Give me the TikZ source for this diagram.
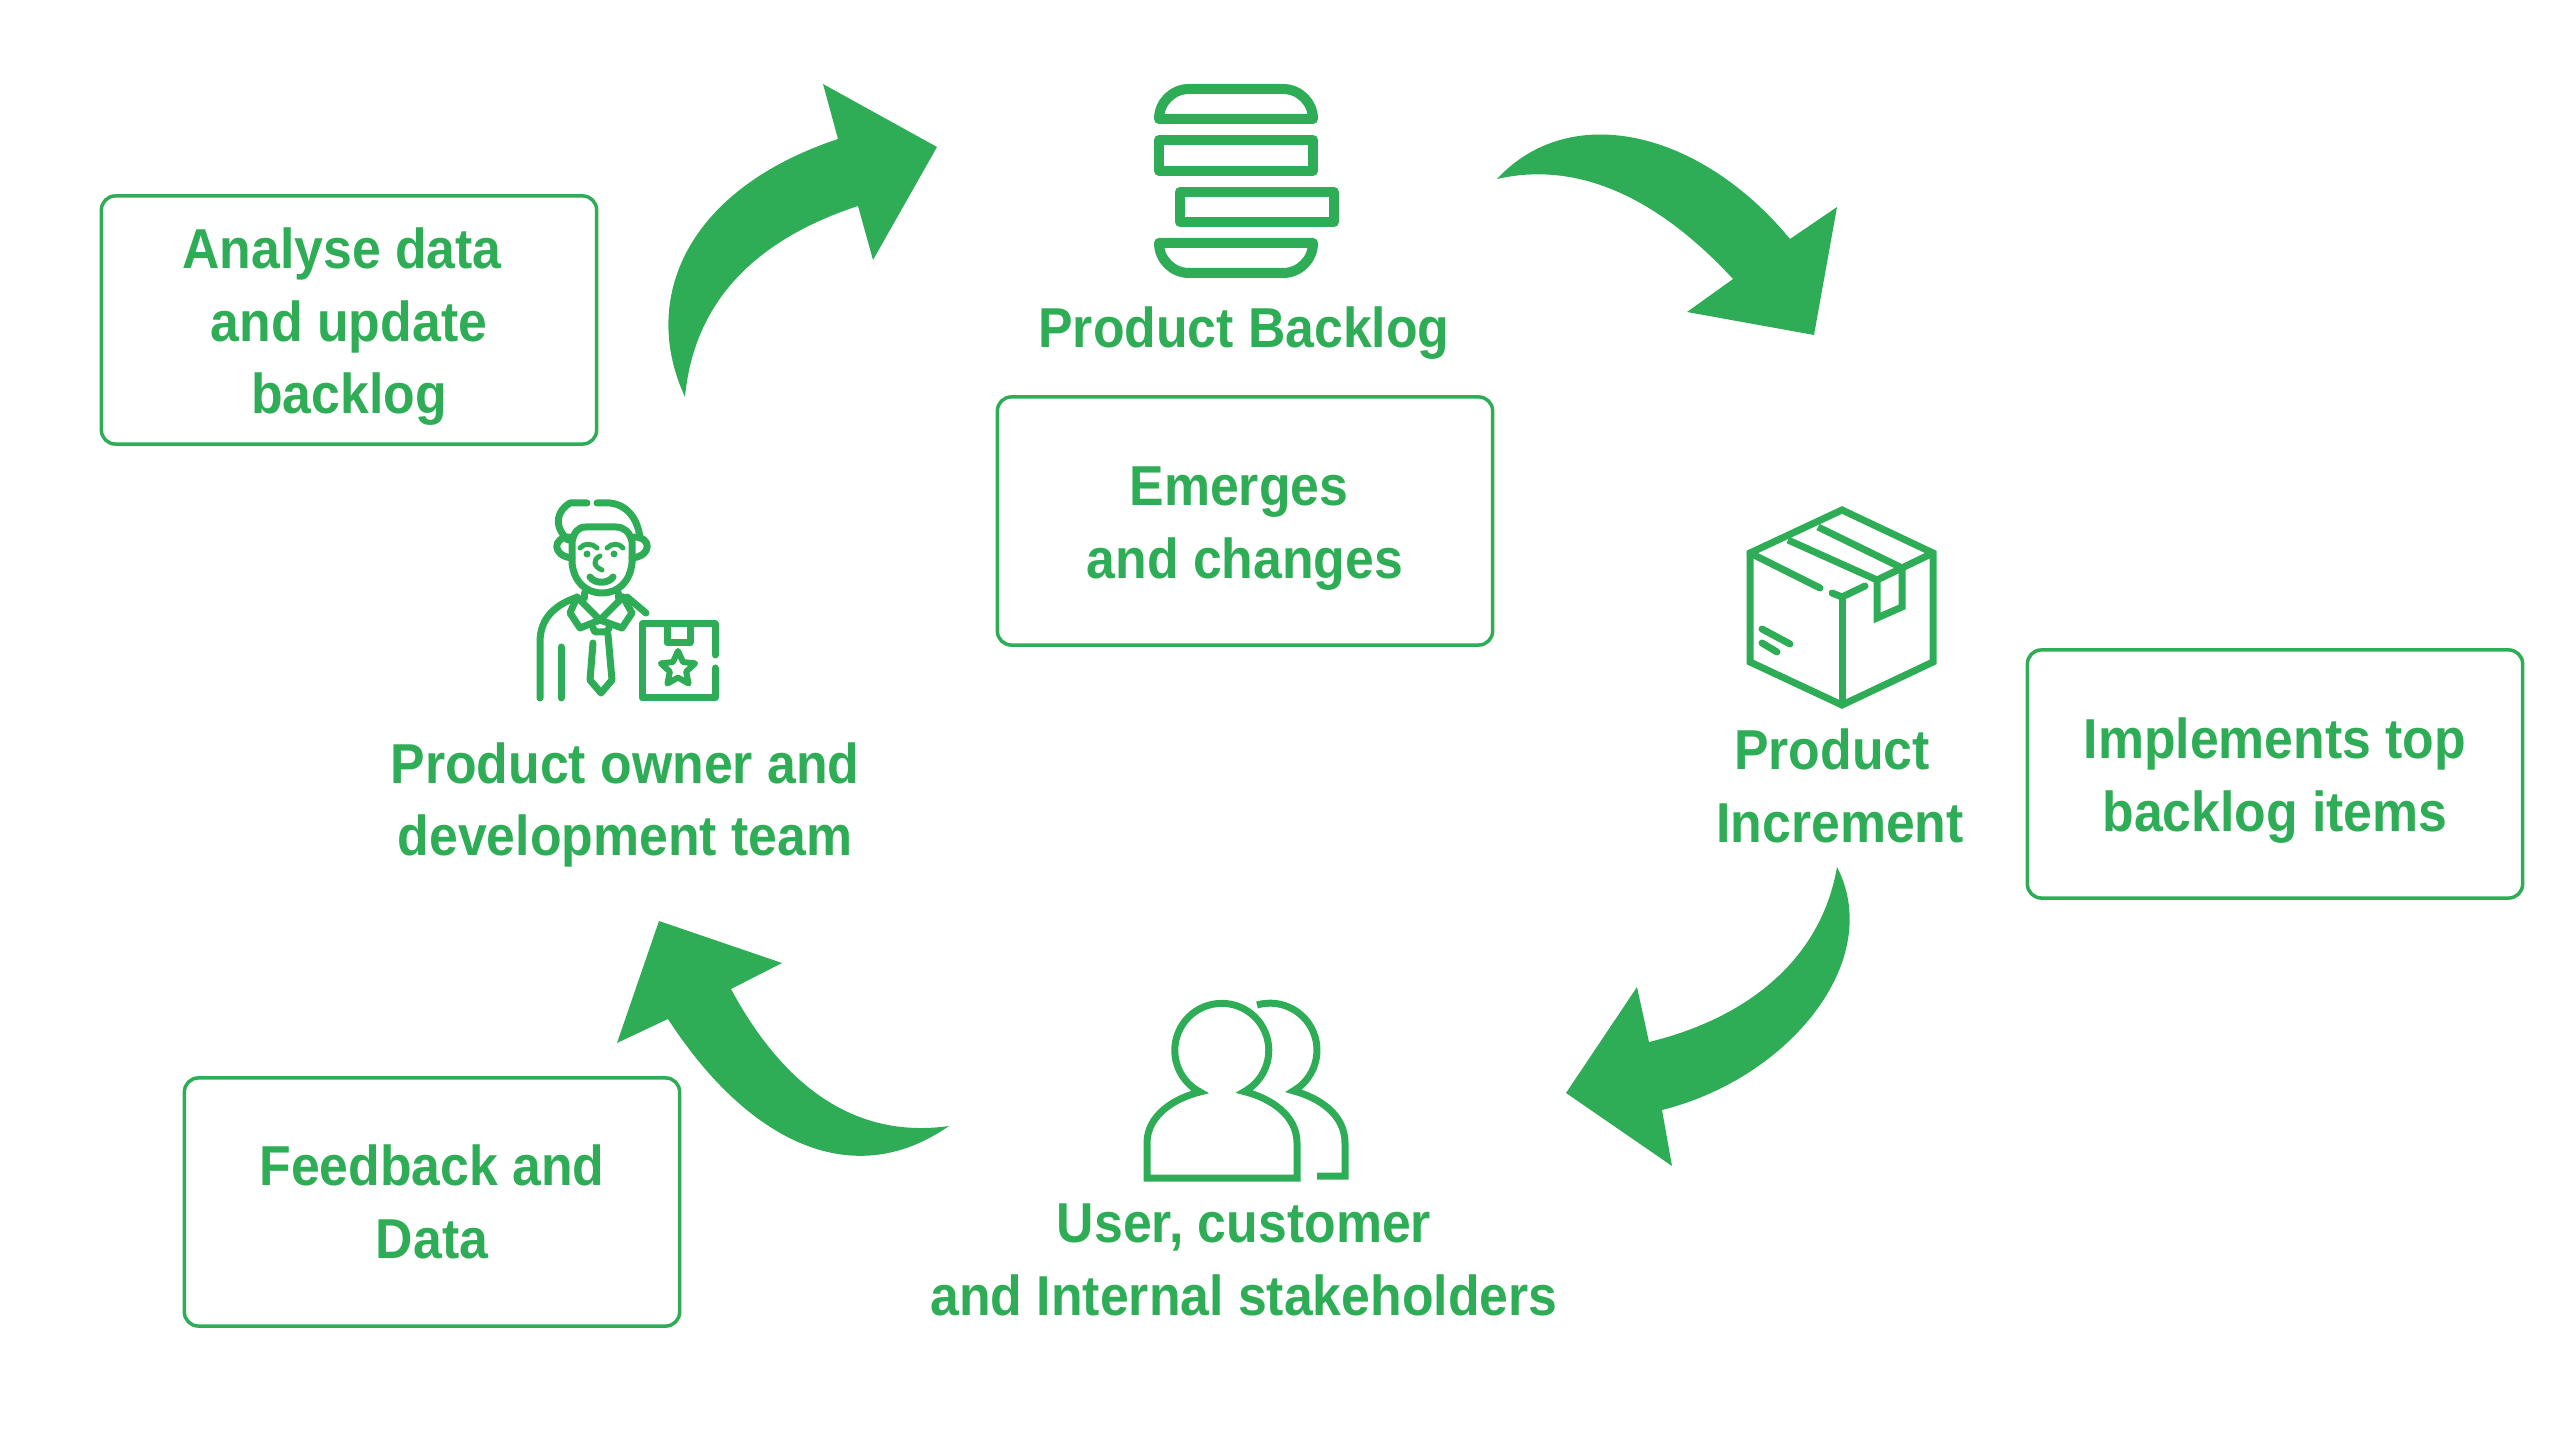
\documentclass[tikz,border=0pt]{standalone}
\usepackage{fontspec}
\setmainfont[FakeStretch=0.92]{Liberation Sans}
\usetikzlibrary{shapes.geometric}
\definecolor{scrumgreen}{RGB}{46,173,86}
\newcommand{\boxlift}{\rule{0pt}{0.54cm}}

\begin{document}
\begin{tikzpicture}[x=0.01cm, y=-0.01cm,
notebox/.style={rectangle, draw=scrumgreen, line width=0.035cm, rounded corners=0.14cm, minimum width=4.95cm, minimum height=2.48cm, align=center, text=scrumgreen, font=\bfseries\fontsize{16}{20.66}\selectfont},
caption/.style={align=center, text=scrumgreen, font=\bfseries\fontsize{16}{20.66}\selectfont},
bigarrow/.style={fill=scrumgreen, draw=none},
thickicon/.style={draw=scrumgreen, line width=0.1cm, line join=round},
plainicon/.style={draw=scrumgreen, line width=0.07cm, line join=miter},
iconline/.style={draw=scrumgreen, line width=0.07cm, line cap=round, line join=round},]

	\useasboundingbox (0, 0) rectangle (2560, 1440);

	% block arrows
	\filldraw[bigarrow] (685, 397) .. controls (640, 300) and (685, 190) .. (838, 139) -- (823, 84) -- (937, 147) -- (873, 260) -- (858, 206) .. controls (770, 235) and (695, 290) .. (685, 397) -- cycle;
	\filldraw[bigarrow] (1497, 179) .. controls (1570, 100) and (1700, 130) .. (1790, 239) -- (1837, 207) -- (1814, 335) -- (1687, 312) -- (1733, 279) .. controls (1660, 200) and (1580, 160) .. (1497, 179) -- cycle;
	\filldraw[bigarrow] (1837, 867) .. controls (1885, 960) and (1790, 1078) .. (1662, 1110) -- (1672, 1166) -- (1566, 1093) -- (1637, 987) -- (1649, 1042) .. controls (1740, 1020) and (1820, 965) .. (1837, 867) -- cycle;
	\filldraw[bigarrow] (949, 1126) .. controls (850, 1195) and (745, 1138) .. (668, 1019) -- (617, 1043) -- (659, 921) -- (782, 963) -- (731, 989) .. controls (780, 1080) and (850, 1140) .. (949, 1126) -- cycle;

	% boxes
	\node (analyse) [notebox] at (349, 320) {\boxlift Analyse data\hspace*{0.14cm}\\and update\\backlog};
	\node (emerges) [notebox] at (1245, 521) {\boxlift Emerges\hspace*{0.12cm}\\and changes};
	\node (implements) [notebox] at (2275, 774) {\boxlift Implements top\\backlog items};
	\node (feedback) [notebox] at (432, 1202) {Feedback and\\Data};

	% captions
	\node (backlog) [caption] at (1244, 333) {Product Backlog};
	\node (increment) [caption] at (1840, 786) {Product\hspace*{0.16cm}\\Increment};
	\node (owner) [caption] at (625, 805) {Product owner and\\development team};
	\node (users) [caption] at (1244, 1260) {User, customer\\and Internal stakeholders};

	% backlog icon
	\draw[thickicon] (1159, 119) [rounded corners=0.3cm] -- (1159, 89) -- (1313, 89) [sharp corners] -- (1313, 119) -- cycle;
	\draw[thickicon] (1159, 140) rectangle (1313, 171);
	\draw[thickicon] (1180, 192) rectangle (1334, 222);
	\draw[thickicon] (1159, 243) -- (1313, 243) [rounded corners=0.3cm] -- (1313, 273) -- (1159, 273) [sharp corners] -- cycle;

	% parcel icon
	\draw[plainicon] (1750, 553) -- (1842, 510) -- (1933, 553) -- (1933, 662) -- (1842, 705) -- (1750, 662) -- cycle;
	\draw[plainicon] (1842, 705) -- (1842, 595);
	\draw[iconline] (1750, 553) -- (1820, 588);
	\draw[iconline] (1832, 593) -- (1842, 597) -- (1865, 586);
	\draw[plainicon] (1788, 540) -- (1877, 580) -- (1877, 618) -- (1902, 607) -- (1902, 568) -- (1818, 527);
	\draw[plainicon] (1877, 580) -- (1933, 553);
	\draw[iconline] (1762, 629) -- (1790, 644);
	\draw[iconline] (1762, 643) -- (1777, 652);

	% users icon
	\draw[plainicon] (1147, 1178) -- (1147, 1143) .. controls (1147, 1115) and (1175, 1098) .. (1200, 1092) arc (117.6:421.3:47) .. controls (1270, 1098) and (1297, 1115) .. (1297, 1143) -- (1297, 1178) -- cycle;
	\draw[plainicon] (1257, 1005) arc (254:420:47) .. controls (1320, 1098) and (1345, 1115) .. (1345, 1143) -- (1345, 1176) -- (1317, 1176);

	% owner icon
	\draw[iconline] (587, 503) -- (570, 503) .. controls (558, 510) and (552, 525) .. (568, 540);
	\draw[iconline] (597, 503) -- (610, 503) .. controls (628, 505) and (638, 520) .. (640, 538);
	\draw[iconline] (572, 563) -- (572, 542) .. controls (574, 532) and (578, 527) .. (586, 527) -- (616, 527) .. controls (624, 527) and (630, 532) .. (632, 542) -- (632, 563) .. controls (630, 582) and (618, 593) .. (602, 593) .. controls (586, 593) and (574, 582) .. (572, 563);
	\draw[iconline] (570, 537) .. controls (552, 537) and (552, 556) .. (572, 558);
	\draw[iconline] (634, 537) .. controls (652, 537) and (652, 556) .. (632, 558);
	\draw[iconline, line width=0.05cm] (580, 548) .. controls (584, 543) and (592, 543) .. (597, 548);
	\draw[iconline, line width=0.05cm] (607, 548) .. controls (612, 543) and (619, 543) .. (623, 548);
	\filldraw[fill=scrumgreen, draw=none] (587, 554) circle (3.5);
	\filldraw[fill=scrumgreen, draw=none] (614, 554) circle (3.5);
	\draw[iconline, line width=0.05cm] (600, 556) .. controls (592, 560) and (594, 567) .. (602, 570);
	\draw[iconline] (590, 577) .. controls (595, 584) and (608, 584) .. (613, 577);
	\draw[iconline] (584, 593) -- (584, 598);
	\draw[iconline] (618, 593) -- (618, 598);
	\draw[iconline] (577, 597) -- (600, 620) -- (623, 597);
	\draw[iconline] (577, 597) -- (570, 613) -- (580, 628) -- (600, 620) -- (622, 628) -- (632, 613) -- (623, 597);
	\draw[iconline] (593, 628) -- (595, 632) -- (607, 632) -- (609, 628);
	\draw[iconline] (575, 598) .. controls (553, 606) and (540, 620) .. (540, 642) -- (540, 698);
	\draw[iconline] (561, 647) -- (561, 698);
	\draw[iconline] (627, 597) -- (646, 613);
	\draw[iconline] (593, 643) -- (590, 680) -- (601, 693) -- (612, 680) -- (608, 635);
	\draw[iconline] (715, 655) -- (715, 624) -- (642, 624) -- (642, 698) -- (715, 698) -- (715, 668);
	\draw[iconline] (667, 627) -- (667, 643) -- (690, 643) -- (690, 627);
	\node (badge) [star, star points=5, star point ratio=2.1, minimum size=0.36cm, inner sep=0pt, draw=scrumgreen, line width=0.06cm, line join=round] at (678, 669) {};

\end{tikzpicture}
\end{document}
